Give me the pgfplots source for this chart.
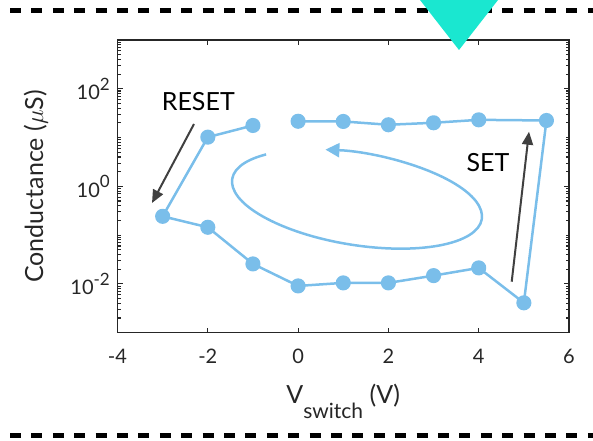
\documentclass[border=0pt]{standalone}
\usepackage{pgfplots}
\pgfplotsset{compat=1.18}
\usepackage{fontspec}
\setmainfont{Lato}
\usetikzlibrary{arrows.meta}
\definecolor{lblue}{RGB}{122,190,234}
\definecolor{turq}{RGB}{26,231,208}
\definecolor{darkarrow}{RGB}{64,64,64}
\definecolor{axgray}{RGB}{38,38,38}
\newcommand\tsup[1]{\raisebox{9.5pt}{\fontsize{17}{17}\selectfont #1}}
\begin{document}
\begin{tikzpicture}
\useasboundingbox (0pt,0pt) rectangle (593pt,440pt);
\begin{axis}[
  at={(117.5pt,107.3pt)}, anchor=south west,
  scale only axis, width=451.5pt, height=292.7pt,
  xmin=-4, xmax=6, ymode=log, ymin=1e-3, ymax=1e3,
  xtick={-4,-2,0,2,4,6}, xticklabels={-4,-2,0,2,4,6},
  ytick={1e-2,1,1e2}, yticklabels={10\tsup{-2},10\tsup{0},10\tsup{2}},
  minor ytick={0.002,0.003,0.004,0.005,0.006,0.007,0.008,0.009,
    0.02,0.03,0.04,0.05,0.06,0.07,0.08,0.09,0.1,
    0.2,0.3,0.4,0.5,0.6,0.7,0.8,0.9,
    2,3,4,5,6,7,8,9,10,20,30,40,50,60,70,80,90,
    200,300,400,500,600,700,800,900},
  axis line style={axgray, line width=1.3pt},
  every tick/.style={axgray, line width=1.1pt},
  major tick length=5pt, minor tick length=3pt,
  tick label style={font=\fontsize{20}{24}\selectfont, text=axgray},
  xticklabel style={anchor=base, yshift=-30.8pt, inner sep=0pt},
  yticklabel style={anchor=base east, xshift=-7.5pt, yshift=-11pt, inner sep=0pt},
  label style={font=\fontsize{25}{30}\selectfont, text=axgray},
  xlabel={V\raisebox{-15pt}{\fontsize{21}{21}\selectfont switch} (V)},
  ylabel={Conductance ($\mu$S)},
  xlabel style={at={(axis description cs:0.5,-0.241)}, anchor=base, inner sep=0pt},
  ylabel style={at={(axis description cs:-0.165,0.5)}, anchor=base, inner sep=0pt},
  clip=false,
]
\addplot[lblue, line width=2.5pt, line join=round, mark=*, mark size=6.3pt,
  mark options={draw=none, fill=lblue}] coordinates {
  (-1,17.7) (-2,10.2) (-3,0.243) (-2,0.145) (-1,0.0257) (0,0.0091)
  (1,0.0105) (2,0.0105) (3,0.0148) (4,0.0213) (5,0.0041)
  (5.5,22.4) (4,23.1) (3,20.1) (2,18.3) (1,21.4) (0,21.6)
};
\end{axis}
% loop arrow
\begin{scope}[shift={(357pt,241pt)}, rotate=-9.15]
\draw[lblue, line width=2.5pt, -{Triangle[length=14pt,width=14pt]}]
  (140:126.4pt and 46pt) arc[start angle=140, end angle=468, x radius=126.4pt, y radius=46pt];
\end{scope}
% RESET / SET arrows
\draw[darkarrow, line width=2pt, -{Triangle[length=13pt,width=11pt]}] (194pt,316pt) -- (152pt,237pt);
\draw[darkarrow, line width=2pt, -{Triangle[length=13pt,width=11pt]}] (511.7pt,158.3pt) -- (529pt,308.3pt);
\node[anchor=base, inner sep=0pt, font=\fontsize{25}{30}\selectfont] at (198.3pt,330pt) {RESET};
\node[anchor=base, inner sep=0pt, font=\fontsize{25}{30}\selectfont] at (488pt,268.3pt) {SET};
% dashed separators
\draw[black, line width=5pt, dash pattern=on 11pt off 10.4pt] (10pt,429pt) -- (593pt,429pt);
\draw[black, line width=5pt, dash pattern=on 11pt off 10.4pt] (10pt,5pt) -- (593pt,5pt);
% turquoise triangle
\fill[turq] (420pt,440pt) -- (498pt,440pt) -- (459pt,390pt) -- cycle;
\end{tikzpicture}
\end{document}
